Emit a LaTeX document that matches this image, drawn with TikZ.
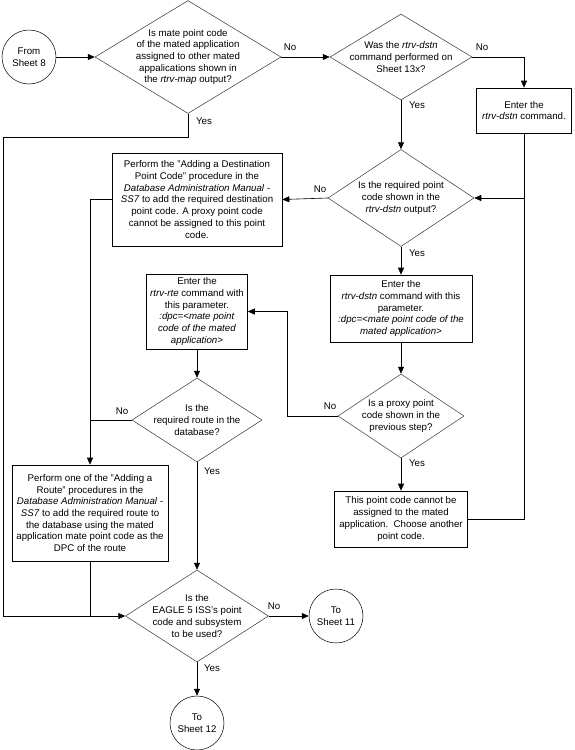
\documentclass[tikz,border=0pt]{standalone}
\usepackage{fontspec}
\setmainfont{Liberation Sans}
\usetikzlibrary{shapes.geometric,arrows.meta}
\tikzset{
  base/.style={font=\fontsize{9.7}{11.7}\selectfont, align=center, inner sep=0pt},
  dia/.style={diamond, draw=black!80, line width=0.5pt, inner sep=0pt},
  dtext/.style={base},
  box/.style={base, draw, line width=0.6pt, rectangle},
  term/.style={base, draw, line width=0.5pt, circle, minimum size=54pt},
  lbl/.style={base},
  line/.style={line width=0.6pt},
  arr/.style={line width=0.6pt, -{Triangle[length=7pt,width=6pt]}}
}
\begin{document}
\begin{tikzpicture}[x=1pt,y=-1pt]
\useasboundingbox (0,0) rectangle (575,750);
% terminals
\node[term] (c8) at (29,57) {From\\Sheet 8};
\node[term] (c11) at (336,616) {To\\Sheet 11};
\node[term] (c12) at (197,723) {To\\Sheet 12};
% diamonds
\node[dia, minimum width=186pt, minimum height=113pt] (d1) at (188,57) {};
\node[dtext] (d1t) at (d1.center) {Is mate point code\\of the mated application\\assigned to other mated\\appalications shown in\\the \textit{rtrv-map} output?};
\node[dia, minimum width=142pt, minimum height=86pt] (d2) at (401,57) {};
\node[dtext] (d2t) at (d2.center) {Was the \textit{rtrv-dstn}\\command performed on\\Sheet 13x?};
\node[dia, minimum width=146pt, minimum height=97pt] (d3) at (401,198) {};
\node[dtext] (d3t) at (d3.center) {Is the required point\\code shown in the\\\textit{rtrv-dstn} output?};
\node[dia, minimum width=126pt, minimum height=84pt] (d4) at (401,416) {};
\node[dtext] (d4t) at (d4.center) {Is a proxy point\\code shown in the\\previous step?};
\node[dia, minimum width=130pt, minimum height=84pt] (d5) at (197,420) {};
\node[dtext] (d5t) at (d5.center) {Is the\\required route in the\\database?};
\node[dia, minimum width=143pt, minimum height=92pt] (d6) at (197,616) {};
\node[dtext] (d6t) at (d6.center) {Is the\\EAGLE 5 ISS's point\\code and subsystem\\to be used?};
% boxes
\node[box, minimum width=95pt, minimum height=45pt] (b1) at (524,110.5) {Enter the\\\textit{rtrv-dstn} command.};
\node[box, minimum width=170pt, minimum height=93pt] (b2) at (197,199.5) {Perform the "Adding a Destination\\Point Code" procedure in the\\\textit{Database Administration Manual -}\\\textit{SS7} to add the required destination\\point code. A proxy point code\\cannot be assigned to this point\\code.};
\node[box, minimum width=142pt, minimum height=67pt] (b3) at (401,308.5) {Enter the\\\textit{rtrv-dstn} command with this\\parameter.\\\textit{:dpc=<mate point code of the}\\\textit{mated application>}};
\node[box, minimum width=133pt, minimum height=56pt] (b4) at (401,519) {This point code cannot be\\assigned to the mated\\application.\ \ Choose another\\point code.};
\node[box, minimum width=101pt, minimum height=75pt] (b5) at (197,311.5) {Enter the\\\textit{rtrv-rte} command with\\this parameter.\\\textit{:dpc=<mate point}\\\textit{code of the mated}\\\textit{application>}};
\node[box, minimum width=156pt, minimum height=96pt] (b6) at (90,513) {Perform one of the "Adding a\\Route" procedures in the\\\textit{Database Administration Manual -}\\\textit{SS7} to add the required route to\\the database using the mated\\application mate point code as the\\DPC of the route};
% coordinates
\coordinate (j1) at (b1.south |- d3.east);
\coordinate (y1) at (188,137);
\coordinate (y2) at (3,137);
\coordinate (y3) at (d6.west -| y2);
\coordinate (n4) at (287,416);
% connectors
\draw[arr] (c8) -- (d1.west);
\draw[arr] (d1.east) -- (d2.west);
\draw[arr] (d2.east) -| (b1.north);
\draw[arr] (d2.south) -- (d3.north);
\draw[line] (b1.south) -- (j1);
\draw[arr] (j1) -- (d3.east);
\draw[line] (b4.east) -| (j1);
\draw[arr] (d3.west) -- (b2.east);
\draw[arr] (d3.south) -- (b3.north);
\draw[arr] (b3.south) -- (d4.north);
\draw[arr] (d4.west) -- (n4) |- (b5.east);
\draw[arr] (d4.south) -- (b4.north);
\draw[arr] (b5.south) -- (d5.north);
\draw[arr] (b2.west) -| (b6.north);
\draw[line] (d5.west) -- (d5.west -| b6.north);
\draw[arr] (d5.south) -- (d6.north);
\draw[arr] (d1.south) -- (y1) -- (y2) -- (y3) -- (d6.west);
\draw[line] (b6.south) -- (b6.south |- d6.west);
\draw[arr] (d6.east) -- (c11.west);
\draw[arr] (d6.south) -- (c12.north);
% labels
\node[lbl] (l1) at (290,47) {No};
\node[lbl] (l2) at (204,121) {Yes};
\node[lbl] (l3) at (482,47) {No};
\node[lbl] (l4) at (417,105) {Yes};
\node[lbl] (l5) at (320,189) {No};
\node[lbl] (l6) at (417,253) {Yes};
\node[lbl] (l7) at (330,406) {No};
\node[lbl] (l8) at (417,463) {Yes};
\node[lbl] (l9) at (122,411) {No};
\node[lbl] (l10) at (212,471) {Yes};
\node[lbl] (l11) at (274,606) {No};
\node[lbl] (l12) at (212,668) {Yes};
\end{tikzpicture}
\end{document}
